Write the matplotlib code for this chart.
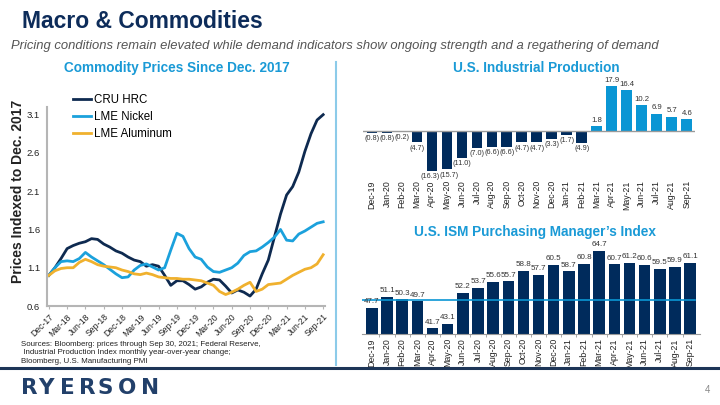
import matplotlib
matplotlib.use("Agg")
import matplotlib.pyplot as plt
import numpy as np

plt.rcParams['font.family'] = ['Liberation Sans', 'DejaVu Sans']

# ---------------- data ----------------
price_months = ["Dec-17", "Jan-18", "Feb-18", "Mar-18", "Apr-18", "May-18", "Jun-18", "Jul-18",
                "Aug-18", "Sep-18", "Oct-18", "Nov-18", "Dec-18", "Jan-19", "Feb-19", "Mar-19",
                "Apr-19", "May-19", "Jun-19", "Jul-19", "Aug-19", "Sep-19", "Oct-19", "Nov-19",
                "Dec-19", "Jan-20", "Feb-20", "Mar-20", "Apr-20", "May-20", "Jun-20", "Jul-20",
                "Aug-20", "Sep-20", "Oct-20", "Nov-20", "Dec-20", "Jan-21", "Feb-21", "Mar-21",
                "Apr-21", "May-21", "Jun-21", "Jul-21", "Aug-21", "Sep-21"]
cru_hrc = [1.00, 1.10, 1.22, 1.35, 1.39, 1.42, 1.44, 1.48, 1.47, 1.41, 1.37, 1.32, 1.29, 1.24,
           1.20, 1.18, 1.12, 1.14, 1.12, 1.00, 0.87, 0.93, 0.93, 0.88, 0.82, 0.85, 0.91, 0.95,
           0.94, 0.86, 0.77, 0.81, 0.78, 0.73, 0.82, 1.02, 1.20, 1.50, 1.80, 2.05, 2.16, 2.35,
           2.62, 2.85, 3.03, 3.10]
lme_nickel = [1.00, 1.10, 1.18, 1.19, 1.18, 1.22, 1.30, 1.24, 1.19, 1.14, 1.08, 1.02, 0.97, 0.98,
              1.07, 1.13, 1.15, 1.11, 1.07, 1.10, 1.33, 1.55, 1.51, 1.35, 1.24, 1.21, 1.11, 1.05,
              1.04, 1.07, 1.10, 1.16, 1.26, 1.31, 1.32, 1.37, 1.43, 1.50, 1.60, 1.46, 1.45, 1.54,
              1.58, 1.63, 1.68, 1.70]
lme_aluminum = [1.00, 1.06, 1.09, 1.10, 1.10, 1.17, 1.21, 1.18, 1.14, 1.12, 1.11, 1.10, 1.07, 1.05,
                1.02, 1.01, 1.03, 1.01, 0.98, 0.97, 0.96, 0.96, 0.95, 0.95, 0.94, 0.93, 0.90, 0.87,
                0.79, 0.75, 0.78, 0.82, 0.87, 0.91, 0.79, 0.82, 0.88, 0.89, 0.90, 0.95, 1.00, 1.04,
                1.08, 1.10, 1.15, 1.27]
price_yticks = [0.6, 1.1, 1.6, 2.1, 2.6, 3.1]

bar_months = ["Dec-19", "Jan-20", "Feb-20", "Mar-20", "Apr-20", "May-20", "Jun-20", "Jul-20",
              "Aug-20", "Sep-20", "Oct-20", "Nov-20", "Dec-20", "Jan-21", "Feb-21", "Mar-21",
              "Apr-21", "May-21", "Jun-21", "Jul-21", "Aug-21", "Sep-21"]
ind_prod = [-0.8, -0.8, -0.2, -4.7, -16.3, -15.7, -11.0, -7.0, -6.6, -6.6, -4.7, -4.7, -3.3,
            -1.7, -4.9, 1.8, 17.9, 16.4, 10.2, 6.9, 5.7, 4.6]
ism_pmi = [47.7, 51.1, 50.3, 49.7, 41.7, 43.1, 52.2, 53.7, 55.6, 55.7, 58.8, 57.7, 60.5, 58.7,
           60.8, 64.7, 60.7, 61.2, 60.6, 59.5, 59.9, 61.1]
ism_threshold = 50

# ---------------- style ----------------
NAVY = "#002b5c"
LIGHT = "#0a96d4"
TITLE_NAVY = "#0d2c5a"
HEAD_BLUE = "#1a9ad6"
ORANGE = "#f0b12e"
GRAY_AX = "#b5b5b5"
TXT = "#222222"

W, H = 720, 405
fig = plt.figure(figsize=(7.2, 4.05), dpi=100)

def fx(px):
    return px / W

def fy(py):
    return 1 - py / H

# titles
fig.text(fx(22), fy(21), "Macro & Commodities", fontsize=16.5, fontweight='bold',
         color=TITLE_NAVY, va='center', ha='left')
fig.text(fx(11), fy(46), "Pricing conditions remain elevated while demand indicators show ongoing strength and a regathering of demand",
         fontsize=9.4, style='italic', color="#555555", va='center', ha='left')

fig.text(fx(177), fy(68), "Commodity Prices Since Dec. 2017", fontsize=9.8, fontweight='bold',
         color=HEAD_BLUE, va='center', ha='center')
fig.text(fx(536), fy(68), "U.S. Industrial Production", fontsize=9.8, fontweight='bold',
         color=HEAD_BLUE, va='center', ha='center')
fig.text(fx(535), fy(232), "U.S. ISM Purchasing Manager\u2019s Index", fontsize=9.8, fontweight='bold',
         color=HEAD_BLUE, va='center', ha='center')

# divider & footer
fig.add_artist(plt.Line2D([fx(336), fx(336)], [fy(62), fy(365)], color="#8ccbe9", lw=1.5))
fig.add_artist(plt.Line2D([0, 1], [fy(368), fy(368)], color="#1d3557", lw=2.2))
logo_letters = "RYERSON"
logo_centers = [29, 46, 67.5, 87.5, 105.5, 127, 150.5]
for ch, cx in zip(logo_letters, logo_centers):
    fig.text(fx(cx), fy(387.5), ch, fontsize=15.5, fontweight='bold', color="#22406a",
             va='center', ha='center', family=['DejaVu Sans'])
fig.text(fx(710), fy(390), "4", fontsize=7, color="#888888", va='center', ha='right')
fig.text(fx(21), fy(341), "Sources: Bloomberg: prices through Sep 30, 2021; Federal Reserve,\n Industrial Production Index monthly year-over-year change;\nBloomberg, U.S. Manufacturing PMI",
         fontsize=5.7, color=TXT, va='top', ha='left', linespacing=1.3)

# ---------------- line chart ----------------
ax1 = fig.add_axes([fx(47), fy(306), fx(325 - 47), (306 - 107) / H])
xi = np.arange(len(price_months))
ax1.plot(xi, cru_hrc, color="#0e2a50", lw=2, label="CRU HRC")
ax1.plot(xi, lme_nickel, color="#1ba1dc", lw=2, label="LME Nickel")
ax1.plot(xi, lme_aluminum, color=ORANGE, lw=2, label="LME Aluminum")
ax1.set_xlim(-0.3, 45.3)
ax1.set_ylim(0.6, 3.2)
ax1.set_yticks(price_yticks)
ax1.set_yticklabels([f"{v:.1f}" for v in price_yticks])
ax1.set_xticks(xi[::3])
ax1.set_xticklabels(price_months[::3], rotation=45, ha='right', rotation_mode='anchor')
ax1.tick_params(axis='y', labelsize=6.8, colors=TXT, length=0, pad=5)
ax1.tick_params(axis='x', labelsize=6.2, labelcolor=TXT, length=2.5, color=GRAY_AX, pad=2)
for s in ['top', 'right']:
    ax1.spines[s].set_visible(False)
for s in ['left', 'bottom']:
    ax1.spines[s].set_color(GRAY_AX)
    ax1.spines[s].set_linewidth(1.5)
fig.text(fx(18), fy(191), "Prices Indexed to Dec. 2017", fontsize=10, fontweight='bold', color=TXT,
         rotation=90, va='center', ha='center')
ax1.legend(loc='upper left', bbox_to_anchor=(fx(73), fy(94)), bbox_transform=fig.transFigure,
           frameon=False, fontsize=8.3, handlelength=1.6, handletextpad=0.2, labelspacing=0.45,
           borderaxespad=0, borderpad=0)

# ---------------- industrial production ----------------
ax2 = fig.add_axes([fx(363), fy(176), fx(695 - 363), (176 - 80) / H])
bi = np.arange(len(bar_months))
colors = [NAVY if v < 0 else LIGHT for v in ind_prod]
ax2.bar(bi, ind_prod, width=0.72, color=colors)
ax2.axhline(0, color="#9a9a9a", lw=1)
ax2.set_xlim(-0.6, 21.55)
ax2.set_ylim(-18.4, 20.5)
ax2.set_yticks([])
ax2.set_xticks(bi)
ax2.set_xticklabels(bar_months, rotation=90, fontsize=6.3, color=TXT)
ax2.tick_params(axis='x', length=0, pad=3)
for s in ax2.spines.values():
    s.set_visible(False)
for i, v in enumerate(ind_prod):
    if v >= 0:
        ax2.text(i, v + 1.0, f"{v:.1f}", ha='center', va='bottom', fontsize=5.6, color="#333333")
    else:
        dx = -0.12 if i == 4 else (0.12 if i == 5 else 0)
        ax2.text(i + dx, v - 1.0, f"({abs(v):.1f})", ha='center', va='top', fontsize=5.2, color="#333333")

# ---------------- ISM ----------------
ax3 = fig.add_axes([fx(362), fy(334), fx(700 - 362), (334 - 245) / H])
ax3.bar(bi, ism_pmi, width=0.76, color=NAVY, bottom=0)
ax3.axhline(ism_threshold, color=LIGHT, lw=1.2, xmin=0.0, xmax=0.985)
ax3.set_xlim(-0.65, 21.65)
ax3.set_ylim(40, 66.5)
ax3.set_yticks([])
ax3.set_xticks(bi)
ax3.set_xticklabels(bar_months, rotation=90, fontsize=6.3, color=TXT)
ax3.set_xticks(bi[:-1] + 0.5, minor=True)
ax3.tick_params(axis='x', which='major', length=0, pad=3)
ax3.tick_params(axis='x', which='minor', length=2.5, color="#9a9a9a")
for s in ['top', 'right', 'left']:
    ax3.spines[s].set_visible(False)
ax3.spines['bottom'].set_color("#9a9a9a")
for i, v in enumerate(ism_pmi):
    ax3.text(i, v + 0.8, f"{v:.1f}", ha='center', va='bottom', fontsize=5.8, color="#333333")

fig.savefig("out.png", dpi=100)
